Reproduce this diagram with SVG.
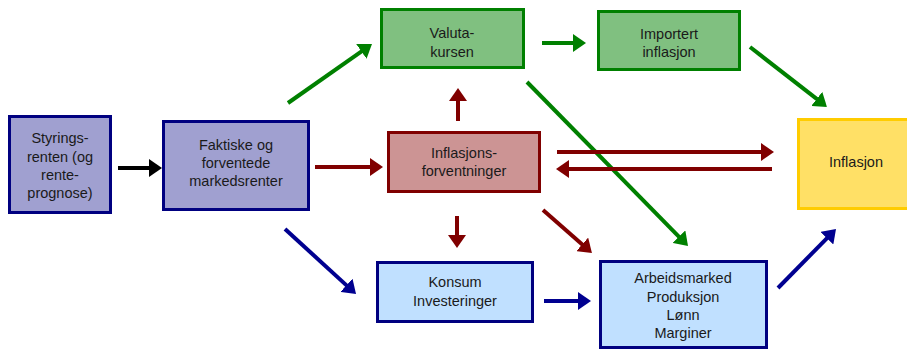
<svg xmlns="http://www.w3.org/2000/svg" width="907" height="349" viewBox="0 0 907 349">
<style>
text{font-family:"Liberation Sans",Arial,sans-serif;font-size:14.5px;fill:#1a1a1a;text-anchor:middle}
.box{stroke-width:3}
.purple{fill:#A0A0D0;stroke:#000080}
.green{fill:#80C080;stroke:#008000}
.red{fill:#CC9494;stroke:#800000}
.yellow{fill:#FFE066;stroke:#FFCC00}
.blue{fill:#C0E0FF;stroke:#000080}
.c{fill:none;stroke-width:4}
.ck{stroke:#000000;marker-end:url(#hk)}
.cg{stroke:#008000;marker-end:url(#hg)}
.cr{stroke:#800000;marker-end:url(#hr)}
.cb{stroke:#000090;marker-end:url(#hb)}
</style>
<defs>
<marker id="hk" markerUnits="userSpaceOnUse" markerWidth="14" markerHeight="18" refX="2" refY="9" orient="auto"><path d="M0,0 L13,9 L0,18 z" fill="#000000"/></marker>
<marker id="hg" markerUnits="userSpaceOnUse" markerWidth="14" markerHeight="18" refX="2" refY="9" orient="auto"><path d="M0,0 L13,9 L0,18 z" fill="#008000"/></marker>
<marker id="hr" markerUnits="userSpaceOnUse" markerWidth="14" markerHeight="18" refX="2" refY="9" orient="auto"><path d="M0,0 L13,9 L0,18 z" fill="#800000"/></marker>
<marker id="hb" markerUnits="userSpaceOnUse" markerWidth="14" markerHeight="18" refX="2" refY="9" orient="auto"><path d="M0,0 L13,9 L0,18 z" fill="#000090"/></marker>
</defs>

<g id="styringsrenten">
<rect class="box purple" x="9.5" y="116.5" width="101" height="96"/>
<text x="60" y="143">Styrings-</text>
<text x="60" y="162">renten (og</text>
<text x="60" y="180">rente-</text>
<text x="60" y="198">prognose)</text>
</g>
<g id="markedsrenter">
<rect class="box purple" x="163.5" y="121.5" width="145" height="88"/>
<text x="236" y="150">Faktiske og</text>
<text x="236" y="168">forventede</text>
<text x="236" y="186">markedsrenter</text>
</g>
<g id="valutakursen">
<rect class="box green" x="381.5" y="9.5" width="142" height="58"/>
<text x="452" y="38">Valuta-</text>
<text x="452" y="57">kursen</text>
</g>
<g id="importert">
<rect class="box green" x="598.5" y="11.5" width="141" height="58"/>
<text x="669" y="39">Importert</text>
<text x="669" y="57">inflasjon</text>
</g>
<g id="forventninger">
<rect class="box red" x="388.5" y="132.5" width="151" height="59"/>
<text x="464" y="158">Inflasjons-</text>
<text x="464" y="176">forventninger</text>
</g>
<g id="inflasjon">
<rect class="box yellow" x="798.5" y="119.5" width="115" height="89"/>
<text x="856" y="167">Inflasjon</text>
</g>
<g id="konsum">
<rect class="box blue" x="377.5" y="262.5" width="155" height="59"/>
<text x="455" y="287">Konsum</text>
<text x="455" y="306">Investeringer</text>
</g>
<g id="arbeidsmarked">
<rect class="box blue" x="600.5" y="261.5" width="166" height="86"/>
<text x="683" y="283">Arbeidsmarked</text>
<text x="683" y="302">Produksjon</text>
<text x="683" y="320">Lønn</text>
<text x="683" y="338">Marginer</text>
</g>

<g id="connectors">
<line class="c ck" x1="118" y1="168" x2="151" y2="168"/>
<line class="c cg" x1="288" y1="103" x2="363" y2="50.3"/>
<line class="c cg" x1="542" y1="43" x2="575" y2="43"/>
<line class="c cg" x1="750" y1="47" x2="818.3" y2="100.2"/>
<line class="c cg" x1="527" y1="82" x2="680.3" y2="238.1"/>
<line class="c cr" x1="458" y1="121" x2="458" y2="99"/>
<line class="c cr" x1="315" y1="167" x2="372" y2="167"/>
<line class="c cr" x1="557" y1="152" x2="763" y2="152"/>
<line class="c cr" x1="772" y1="169" x2="567" y2="169"/>
<line class="c cr" x1="457" y1="216" x2="457" y2="237"/>
<line class="c cr" x1="543" y1="210" x2="583.7" y2="245.7"/>
<line class="c cb" x1="285" y1="229" x2="347.9" y2="286.6"/>
<line class="c cb" x1="544" y1="301" x2="580" y2="301"/>
<line class="c cb" x1="778" y1="288" x2="828.3" y2="236.8"/>
</g>
</svg>
